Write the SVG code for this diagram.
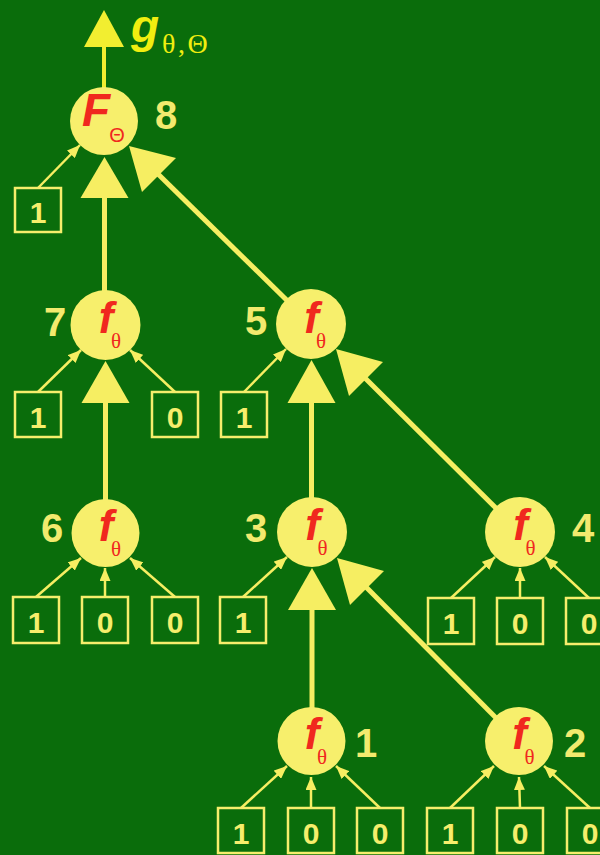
<svg xmlns="http://www.w3.org/2000/svg" width="600" height="855" viewBox="0 0 600 855">
<defs>
<style>
.bg{fill:#0a6d0b}
.c{fill:#f7ef6c}
.lab{font-family:"Liberation Sans",Arial,sans-serif;font-weight:bold;font-size:40px;fill:#f2ea6e;text-anchor:middle}
.f{font-family:"Liberation Sans",Arial,sans-serif;font-weight:bold;font-style:italic;font-size:44px;fill:#f0281e;text-anchor:middle}
.sub{font-family:"Liberation Serif","Times New Roman",serif;font-size:21px;fill:#f0281e;text-anchor:middle}
.box{fill:none;stroke:#f6ee6c;stroke-width:2.5}
.bt{font-family:"Liberation Sans",Arial,sans-serif;font-weight:bold;font-size:30px;fill:#f6ee6c;text-anchor:middle}
.big{stroke:#f6ee62;stroke-width:5;fill:none}
.head{fill:#f6ee62}
.sm{stroke:#f6ee62;stroke-width:2.5;fill:none;marker-end:url(#ah)}
.out{fill:#f0ee10}
</style>
<marker id="ah" markerUnits="userSpaceOnUse" markerWidth="13" markerHeight="11" refX="13" refY="5.5" orient="auto">
<path d="M0,0 L13,5.5 L0,11 z" fill="#f6ee62"/>
</marker>
</defs>
<rect class="bg" x="0" y="0" width="600" height="855"/>

<g id="connectors">
<!-- output arrow -->
<line class="big" x1="104" y1="90" x2="104" y2="46" style="stroke-width:4;stroke:#f2ee30"/>
<polygon points="104,10 84,47 124,47" fill="#f2ee30"/>
<!-- 7 -> 8 -->
<line class="big" x1="104.5" y1="292" x2="104.5" y2="196"/>
<polygon class="head" points="104.5,157 80.5,198 128.5,198"/>
<!-- 5 -> 8 -->
<line class="big" x1="311" y1="324" x2="158" y2="174"/>
<polygon class="head" points="129,146 176,158 142,192"/>
<!-- 6 -> 7 -->
<line class="big" x1="105.5" y1="500" x2="105.5" y2="402"/>
<polygon class="head" points="105.5,361 81.5,403 129.5,403"/>
<!-- 3 -> 5 -->
<line class="big" x1="311.5" y1="498" x2="311.5" y2="402"/>
<polygon class="head" points="311.5,360 287.5,403 335.5,403"/>
<!-- 4 -> 5 -->
<line class="big" x1="520" y1="532" x2="365" y2="378"/>
<polygon class="head" points="336,349 383,362 349,396"/>
<!-- 1 -> 3 -->
<line class="big" x1="312" y1="708" x2="312" y2="609"/>
<polygon class="head" points="312,568 288,610 336,610"/>
<!-- 2 -> 3 -->
<line class="big" x1="519" y1="741" x2="366" y2="587"/>
<polygon class="head" points="337,558 384,571 350,605"/>

<!-- input arrows -->
<line class="sm" x1="38" y1="188" x2="80" y2="145"/>
<line class="sm" x1="38" y1="392" x2="81" y2="350"/>
<line class="sm" x1="175" y1="392" x2="130" y2="350"/>
<line class="sm" x1="244" y1="392" x2="286" y2="349"/>
<line class="sm" x1="36" y1="597" x2="81" y2="558"/>
<line class="sm" x1="105" y1="597" x2="105" y2="568"/>
<line class="sm" x1="175" y1="597" x2="130" y2="558"/>
<line class="sm" x1="243" y1="597" x2="287" y2="557"/>
<line class="sm" x1="451" y1="598" x2="495" y2="557"/>
<line class="sm" x1="520" y1="598" x2="520" y2="568"/>
<line class="sm" x1="589" y1="598" x2="545" y2="557"/>
<line class="sm" x1="241" y1="808" x2="287" y2="766"/>
<line class="sm" x1="311" y1="808" x2="311" y2="777"/>
<line class="sm" x1="380" y1="808" x2="336" y2="766"/>
<line class="sm" x1="450" y1="808" x2="494" y2="766"/>
<line class="sm" x1="520" y1="808" x2="519" y2="777"/>
<line class="sm" x1="590" y1="808" x2="544" y2="766"/>
</g>

<g id="output-label">
<text class="out" x="131" y="42" style="font-family:'Liberation Sans',Arial,sans-serif;font-weight:bold;font-style:italic;font-size:46px">g</text>
<text class="out" x="162" y="53" style="font-family:'Liberation Serif','Times New Roman',serif;font-size:28px;letter-spacing:2.5px">θ,Θ</text>
</g>

<g id="node8">
<circle class="c" cx="104" cy="121" r="34"/>
<text class="f" x="96" y="126" style="font-size:46px">F</text>
<text x="117" y="142" style="font-family:'Liberation Sans',Arial,sans-serif;font-size:20px;fill:#f0281e;text-anchor:middle">Θ</text>
<text class="lab" x="166" y="129">8</text>
</g>
<g id="node7">
<circle class="c" cx="105.5" cy="325" r="35"/>
<text class="f" x="106" y="333">f</text>
<text class="sub" x="116" y="348">θ</text>
<text class="lab" x="55" y="336">7</text>
</g>
<g id="node5">
<circle class="c" cx="311" cy="324" r="35"/>
<text class="f" x="311.5" y="333">f</text>
<text class="sub" x="321" y="348">θ</text>
<text class="lab" x="256" y="335">5</text>
</g>
<g id="node6">
<circle class="c" cx="105.5" cy="533" r="34"/>
<text class="f" x="106" y="541">f</text>
<text class="sub" x="116" y="556">θ</text>
<text class="lab" x="52" y="542">6</text>
</g>
<g id="node3">
<circle class="c" cx="312" cy="532" r="35"/>
<text class="f" x="312.5" y="540">f</text>
<text class="sub" x="322.5" y="555">θ</text>
<text class="lab" x="256" y="542">3</text>
</g>
<g id="node4">
<circle class="c" cx="520" cy="532" r="35"/>
<text class="f" x="520.5" y="540">f</text>
<text class="sub" x="530.5" y="555">θ</text>
<text class="lab" x="583" y="542">4</text>
</g>
<g id="node1">
<circle class="c" cx="311.5" cy="741" r="34"/>
<text class="f" x="312" y="749">f</text>
<text class="sub" x="322" y="764">θ</text>
<text class="lab" x="366" y="757">1</text>
</g>
<g id="node2">
<circle class="c" cx="519" cy="741" r="34"/>
<text class="f" x="519.5" y="749">f</text>
<text class="sub" x="529.5" y="764">θ</text>
<text class="lab" x="575" y="757">2</text>
</g>

<g id="box8a"><rect class="box" x="15" y="188" width="46" height="44"/><text class="bt" x="38" y="223">1</text></g>
<g id="box7a"><rect class="box" x="15" y="392" width="46" height="45"/><text class="bt" x="38" y="428">1</text></g>
<g id="box7b"><rect class="box" x="152" y="392" width="46" height="45"/><text class="bt" x="175" y="428">0</text></g>
<g id="box5a"><rect class="box" x="221" y="392" width="46" height="45"/><text class="bt" x="244" y="428">1</text></g>
<g id="box6a"><rect class="box" x="13" y="597" width="46" height="46"/><text class="bt" x="36" y="633">1</text></g>
<g id="box6b"><rect class="box" x="82" y="597" width="46" height="46"/><text class="bt" x="105" y="633">0</text></g>
<g id="box6c"><rect class="box" x="152" y="597" width="46" height="46"/><text class="bt" x="175" y="633">0</text></g>
<g id="box3a"><rect class="box" x="220" y="597" width="46" height="46"/><text class="bt" x="243" y="633">1</text></g>
<g id="box4a"><rect class="box" x="428" y="598" width="46" height="46"/><text class="bt" x="451" y="634">1</text></g>
<g id="box4b"><rect class="box" x="497" y="598" width="46" height="46"/><text class="bt" x="520" y="634">0</text></g>
<g id="box4c"><rect class="box" x="566" y="598" width="46" height="46"/><text class="bt" x="589" y="634">0</text></g>
<g id="box1a"><rect class="box" x="218" y="808" width="46" height="45"/><text class="bt" x="241" y="844">1</text></g>
<g id="box1b"><rect class="box" x="288" y="808" width="46" height="45"/><text class="bt" x="311" y="844">0</text></g>
<g id="box1c"><rect class="box" x="357" y="808" width="46" height="45"/><text class="bt" x="380" y="844">0</text></g>
<g id="box2a"><rect class="box" x="427" y="808" width="46" height="45"/><text class="bt" x="450" y="844">1</text></g>
<g id="box2b"><rect class="box" x="497" y="808" width="46" height="45"/><text class="bt" x="520" y="844">0</text></g>
<g id="box2c"><rect class="box" x="567" y="808" width="46" height="45"/><text class="bt" x="590" y="844">0</text></g>
</svg>
